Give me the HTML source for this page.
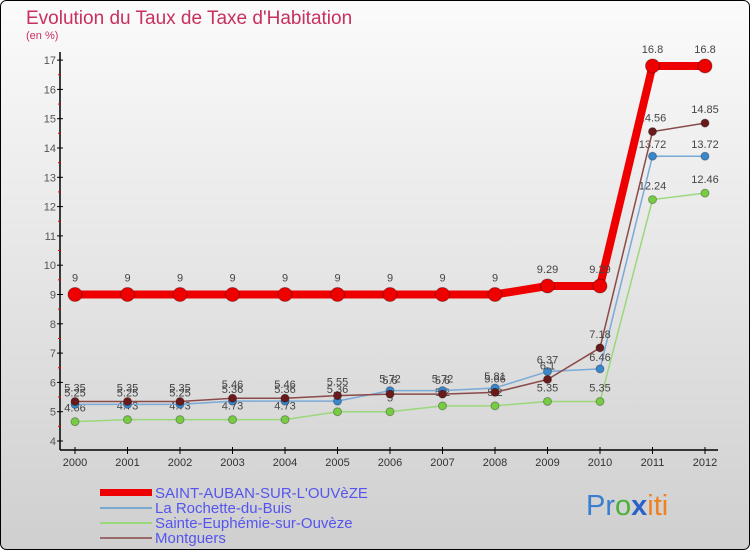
<!DOCTYPE html>
<html><head><meta charset="utf-8"><style>
body{margin:0;width:750px;height:550px;overflow:hidden;font-family:"Liberation Sans",sans-serif}
svg{display:block}
</style></head><body>
<svg id="chart" width="750" height="550" xmlns="http://www.w3.org/2000/svg">
<defs><linearGradient id="bg" x1="0" y1="0" x2="0" y2="1"><stop offset="0" stop-color="#fbfbfb"/><stop offset="1" stop-color="#cfcfcf"/></linearGradient></defs>
<rect x="0.5" y="0.5" width="749" height="549" rx="6" fill="url(#bg)" stroke="#000"/>
<text x="26" y="24" font-size="19" fill="#c8305e">Evolution du Taux de Taxe d'Habitation</text>
<text x="26" y="39" font-size="11" fill="#c8305e">(en %)</text>
<g id="axes"></g><g id="series"></g>
<g>
<rect x="100" y="489" width="52" height="7" fill="#e00"/>
<text x="155" y="498" font-size="15" fill="#5555ee">SAINT-AUBAN-SUR-L'OUVèZE</text>
<line x1="100" y1="508" x2="152" y2="508" stroke="#7aa9d0" stroke-width="2"/>
<text x="155" y="513" font-size="15" fill="#5555ee">La Rochette-du-Buis</text>
<line x1="100" y1="523" x2="152" y2="523" stroke="#9ad87a" stroke-width="2"/>
<text x="155" y="528" font-size="15" fill="#5555ee">Sainte-Euphémie-sur-Ouvèze</text>
<line x1="100" y1="538" x2="152" y2="538" stroke="#9a6a6a" stroke-width="2"/>
<text x="155" y="543" font-size="15" fill="#5555ee">Montguers</text>
</g>
<text x="586" y="515" font-size="29"><tspan fill="#3a7fcf">Pr</tspan><tspan fill="#4caf3a">o</tspan><tspan fill="#2a62c8" font-weight="bold">x</tspan><tspan fill="#f08020">iti</tspan></text>
</svg>
<script>
const years=[2000,2001,2002,2003,2004,2005,2006,2007,2008,2009,2010,2011,2012];
const yTicks=[4,5,6,7,8,9,10,11,12,13,14,15,16,17];
const saintAuban=[9,9,9,9,9,9,9,9,9,9.29,9.29,16.8,16.8];
const laRochette=[5.25,5.25,5.25,5.36,5.36,5.36,5.72,5.72,5.81,6.37,6.46,13.72,13.72];
const sainteEuphemie=[4.66,4.73,4.73,4.73,4.73,5,5,5.2,5.2,5.35,5.35,12.24,12.46];
const montguers=[5.35,5.35,5.35,5.46,5.46,5.55,5.6,5.6,5.66,6.1,7.18,14.56,14.85];
const NS='http://www.w3.org/2000/svg';
const X=i=>75+i*52.5;
const Y=v=>441-(v-4)*29.3;
function mk(tag,attrs,parent,txt){const e=document.createElementNS(NS,tag);for(const k in attrs)e.setAttribute(k,attrs[k]);if(txt!==undefined)e.textContent=txt;parent.appendChild(e);return e;}
const ax=document.getElementById('axes');
let e=mk('line',{x1:60,y1:52,x2:60,y2:450,stroke:'#000','stroke-width':1.5},ax);

e=mk('line',{x1:60,y1:450,x2:718,y2:450,stroke:'#000','stroke-width':1.5},ax);

yTicks.forEach(v=>{
 mk('line',{x1:57,y1:Y(v),x2:63,y2:Y(v),stroke:'#000'},ax);
 if(v<17)mk('line',{x1:58,y1:Y(v+0.5),x2:61,y2:Y(v+0.5),stroke:'#e00'},ax);
 const t=mk('text',{x:56,y:Y(v)+4,'font-size':11,fill:'#555','text-anchor':'end'},ax,String(v));
 
});
years.forEach((y,i)=>{
 mk('line',{x1:X(i),y1:447,x2:X(i),y2:454,stroke:'#000'},ax);
 const t=mk('text',{x:X(i),y:466,'font-size':11,fill:'#333','text-anchor':'middle'},ax,String(y));
 
});
const sg=document.getElementById('series');
function draw(vals,color,dot,w,r,name,lblDy){
 const g=mk('g',{},sg);
 
 mk('polyline',{points:vals.map((v,i)=>X(i)+','+Y(v)).join(' '),fill:'none',stroke:color,'stroke-width':w,'stroke-linejoin':'round'},g);
 vals.forEach((v,i)=>{
  const c=mk('circle',{cx:X(i),cy:Y(v),r:r,fill:dot,stroke:'rgba(0,0,0,0.3)'},g);
  
  const t=mk('text',{x:X(i),y:Y(v)+lblDy,'font-size':11,fill:'#444','text-anchor':'middle'},g,String(v));
  
 });
}
draw(sainteEuphemie,'#9ad87a','#77cc44',1.5,4,'series-sainte-euphemie',-10);
draw(laRochette,'#7aaad8','#3a88cc',1.5,4,'series-la-rochette',-8);
draw(montguers,'#8a4a4a','#6a1a1a',1.5,4,'series-montguers',-10);
draw(saintAuban,'#ee0000','#ee0000',8,7,'series-saint-auban',-13);
</script>
</body></html>
